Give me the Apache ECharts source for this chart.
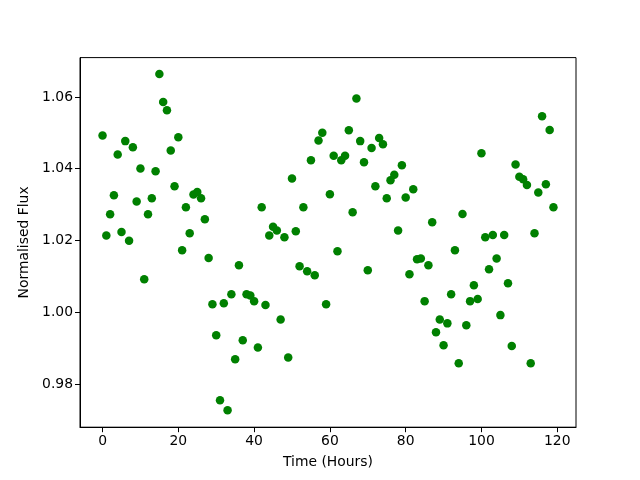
<!DOCTYPE html>
<html>
<head>
<meta charset="utf-8">
<script src="https://cdn.jsdelivr.net/npm/echarts@6/dist/echarts.min.js"></script>
<style>
  html, body { margin: 0; padding: 0; background: #fff; }
  #chart { width: 640px; height: 480px; }
</style>
</head>
<body>
<div id="chart"></div>
<script>
// hours 0..119, one reading per hour
var hours = [];
for (var h = 0; h < 120; h++) hours.push(h);

var flux = [
  1.0493, 1.0214, 1.0273, 1.0326, 1.0440, 1.0224, 1.0477, 1.0199, 1.0460, 1.0309,
  1.0401, 1.0092, 1.0273, 1.0318, 1.0393, 1.0664, 1.0586, 1.0563, 1.0451, 1.0351,
  1.0488, 1.0173, 1.0293, 1.0220, 1.0328, 1.0335, 1.0318, 1.0259, 1.0151, 1.0022,
  0.9936, 0.9755, 1.0025, 0.9727, 1.0050, 0.9869, 1.0131, 0.9922, 1.0050, 1.0047,
  1.0031, 0.9902, 1.0293, 1.0020, 1.0214, 1.0238, 1.0228, 0.9980, 1.0209, 0.9874,
  1.0373, 1.0226, 1.0128, 1.0293, 1.0114, 1.0424, 1.0103, 1.0479, 1.0500, 1.0022,
  1.0329, 1.0436, 1.0170, 1.0424, 1.0436, 1.0507, 1.0279, 1.0596, 1.0477, 1.0418,
  1.0117, 1.0458, 1.0351, 1.0486, 1.0468, 1.0318, 1.0368, 1.0383, 1.0228, 1.0410,
  1.0320, 1.0106, 1.0343, 1.0148, 1.0150, 1.0031, 1.0131, 1.0251, 0.9944, 0.9980,
  0.9908, 0.9969, 1.0050, 1.0173, 0.9858, 1.0274, 0.9964, 1.0031, 1.0075, 1.0037,
  1.0443, 1.0209, 1.0120, 1.0215, 1.0150, 0.9992, 1.0215, 1.0081, 0.9906, 1.0412,
  1.0378, 1.0371, 1.0355, 0.9858, 1.0220, 1.0334, 1.0546, 1.0357, 1.0508, 1.0293
];

var xTicks = [0, 20, 40, 60, 80, 100, 120];
var yTicks = [0.98, 1.00, 1.02, 1.04, 1.06];

var chart = echarts.init(document.getElementById('chart'));
var font = 'DejaVu Sans';

var option = {
  animation: false,
  backgroundColor: '#fff',
  grid: {
    left: 80, right: 64, top: 57.6, bottom: 52.8,
    show: true, borderColor: '#000', borderWidth: 1
  },
  xAxis: {
    type: 'value',
    min: -5.95,
    max: 124.95,
    name: 'Time (Hours)',
    nameLocation: 'middle',
    nameGap: 28,
    nameTextStyle: { color: '#000', fontFamily: font, fontSize: 13.9 },
    axisLine: { show: true, onZero: false, lineStyle: { color: '#000', width: 1 } },
    axisTick: { show: true, inside: false, length: 5, customValues: xTicks, lineStyle: { color: '#000' } },
    axisLabel: { customValues: xTicks, color: '#000', fontFamily: font, fontSize: 13.9, margin: 7 },
    splitLine: { show: false }
  },
  yAxis: {
    type: 'value',
    min: 0.96796,
    max: 1.07098,
    name: 'Normalised Flux',
    nameLocation: 'middle',
    nameGap: 47,
    nameTextStyle: { color: '#000', fontFamily: font, fontSize: 13.9 },
    axisLine: { show: true, onZero: false, lineStyle: { color: '#000', width: 1 } },
    axisTick: { show: true, inside: false, length: 5, customValues: yTicks, lineStyle: { color: '#000' } },
    axisLabel: {
      customValues: yTicks, color: '#000', fontFamily: font, fontSize: 13.9, margin: 7,
      formatter: function (v) { return v.toFixed(2); }
    },
    splitLine: { show: false }
  },
  series: [{
    type: 'scatter',
    symbol: 'circle',
    symbolSize: 8.5,
    itemStyle: { color: '#008000', opacity: 1 },
    data: hours.map(function (h, i) { return [h, flux[i]]; })
  }]
};

chart.setOption(option);
</script>
</body>
</html>
